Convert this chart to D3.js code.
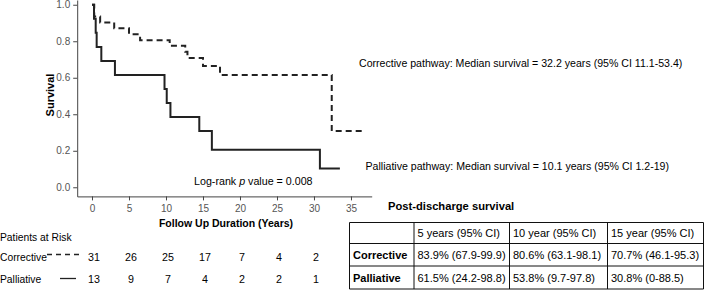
<!DOCTYPE html>
<html><head><meta charset="utf-8">
<script src="https://cdn.jsdelivr.net/npm/d3@7"></script>
<style>
body{margin:0;background:#fff;}
svg text{font-family:"Liberation Sans",Arial,sans-serif;}
</style></head>
<body>
<svg id="c" width="706" height="291"></svg>
<script>
// ---- data ----
const correctiveTime = [0, 0.3, 1.1, 3.0, 5.0, 6.5, 10.5, 12.6, 12.9, 15.0, 17.3, 32.4, 36.5];
const correctiveSurv = [1, 0.935, 0.903, 0.871, 0.839, 0.806, 0.775, 0.742, 0.708, 0.665, 0.615, 0.308, 0.308];
const palliativeTime = [0, 0.27, 0.5, 0.63, 1.26, 3.1, 9.8, 10.1, 10.6, 14.5, 16.2, 30.8, 33.5];
const palliativeSurv = [1, 0.923, 0.846, 0.769, 0.692, 0.615, 0.538, 0.462, 0.385, 0.308, 0.205, 0.103, 0.103];
const xTicks = [0, 5, 10, 15, 20, 25, 30, 35];
const yTicks = [0, 0.2, 0.4, 0.6, 0.8, 1.0];
const riskTimes = [0, 5, 10, 15, 20, 25, 30];
const riskCorrective = [31, 26, 25, 17, 7, 4, 2];
const riskPalliative = [13, 9, 7, 4, 2, 2, 1];
const tableHeaders = ["", "5 years (95% CI)", "10 year (95% CI)", "15 year (95% CI)"];
const tableRowLabels = ["Corrective", "Palliative"];
const tableCorrective = ["83.9% (67.9-99.9)", "80.6% (63.1-98.1)", "70.7% (46.1-95.3)"];
const tablePalliative = ["61.5% (24.2-98.8)", "53.8% (9.7-97.8)", "30.8% (0-88.5)"];

const svg = d3.select("#c");
const x = d3.scaleLinear().domain([-2, 37.8]).range([77.2, 371.7]);
const y = d3.scaleLinear().domain([-0.05, 1.026]).range([196.4, 0]);

// axes
const gx = svg.append("g").attr("transform", "translate(0," + y(-0.05) + ")")
  .call(d3.axisBottom(x).tickValues(xTicks).tickSize(4).tickSizeOuter(0).tickFormat(d3.format("d")));
const gy = svg.append("g").attr("transform", "translate(" + x(-2) + ",0)")
  .call(d3.axisLeft(y).tickValues(yTicks).tickSize(4).tickSizeOuter(0).tickFormat(d3.format(".1f")));
[gx, gy].forEach(g => {
  g.select(".domain").attr("stroke", "#444");
  g.selectAll(".tick line").attr("stroke", "#444");
  g.selectAll(".tick text").attr("fill", "#555").attr("font-size", 10)
   .attr("font-family", "Liberation Sans, Arial, sans-serif");
});
gx.selectAll(".tick text").attr("dy", "0.9em");

// curves
const line = d3.line().x(d => x(d[0])).y(d => y(d[1])).curve(d3.curveStepAfter);
const cData = correctiveTime.map((t, i) => [t, correctiveSurv[i]]);
const pData = palliativeTime.map((t, i) => [t, palliativeSurv[i]]);
svg.append("path").attr("d", line(cData)).attr("fill", "none").attr("stroke", "#222")
  .attr("stroke-width", 2).attr("stroke-dasharray", "6,4");
svg.append("path").attr("d", line(pData)).attr("fill", "none").attr("stroke", "#222")
  .attr("stroke-width", 2);

// labels
svg.append("text").attr("transform", "translate(54,95) rotate(-90)").attr("text-anchor", "middle")
  .attr("font-size", 11).attr("font-weight", "bold").text("Survival");
svg.append("text").attr("x", 226).attr("y", 227).attr("text-anchor", "middle")
  .attr("font-size", 10.5).attr("font-weight", "bold").text("Follow Up Duration (Years)");
const lr = svg.append("text").attr("x", 194).attr("y", 185).attr("font-size", 10.7);
lr.append("tspan").text("Log-rank ");
lr.append("tspan").attr("font-style", "italic").text("p");
lr.append("tspan").text(" value = 0.008");

svg.append("text").attr("x", 359).attr("y", 66.5).attr("font-size", 10.6)
  .text("Corrective pathway: Median survival = 32.2 years (95% CI 11.1-53.4)");
svg.append("text").attr("x", 365.5).attr("y", 170).attr("font-size", 10.6)
  .text("Palliative pathway: Median survival = 10.1 years (95% CI 1.2-19)");

// patients at risk
const fsL = 10.3;
svg.append("text").attr("x", 0).attr("y", 240.5).attr("font-size", fsL).text("Patients at Risk");
svg.append("text").attr("x", 0).attr("y", 260.5).attr("font-size", fsL).text("Corrective");
svg.append("text").attr("x", 0).attr("y", 283).attr("font-size", fsL).text("Palliative");
svg.append("line").attr("x1", 47).attr("x2", 79).attr("y1", 254.5).attr("y2", 254.5)
  .attr("stroke", "#222").attr("stroke-width", 1.3).attr("stroke-dasharray", "5,4");
svg.append("line").attr("x1", 60).attr("x2", 76).attr("y1", 278.5).attr("y2", 278.5)
  .attr("stroke", "#222").attr("stroke-width", 1.3);
svg.selectAll(".rc").data(riskTimes).enter().append("text")
  .attr("x", (d) => x(d) + 2).attr("y", 260.5).attr("text-anchor", "middle").attr("font-size", 10.7)
  .text((d, i) => riskCorrective[i]);
svg.selectAll(".rp").data(riskTimes).enter().append("text")
  .attr("x", (d) => x(d) + 2).attr("y", 283).attr("text-anchor", "middle").attr("font-size", 10.7)
  .text((d, i) => riskPalliative[i]);

// table
svg.append("text").attr("x", 388).attr("y", 209.5).attr("font-size", 11.2).attr("font-weight", "bold")
  .text("Post-discharge survival");
const colX = [349.5, 414, 509.5, 607.5, 703.5];
const rowY = [222.5, 243.5, 266, 289];
const tg = svg.append("g");
tg.selectAll(".vl").data(colX).enter().append("line")
  .attr("x1", d => d).attr("x2", d => d).attr("y1", rowY[0]).attr("y2", rowY[3])
  .attr("stroke", "#111").attr("stroke-width", 1);
tg.selectAll(".hl").data(rowY).enter().append("line")
  .attr("y1", d => d).attr("y2", d => d).attr("x1", colX[0]).attr("x2", colX[4])
  .attr("stroke", "#111").attr("stroke-width", 1);
const rows = [tableHeaders, [tableRowLabels[0]].concat(tableCorrective), [tableRowLabels[1]].concat(tablePalliative)];
rows.forEach((r, ri) => {
  r.forEach((txt, ci) => {
    tg.append("text").attr("x", colX[ci] + 3.5).attr("y", (rowY[ri] + rowY[ri + 1]) / 2 + 4)
      .attr("font-size", 11).attr("font-weight", ci === 0 ? "bold" : "normal").text(txt);
  });
});
</script>
</body></html>
